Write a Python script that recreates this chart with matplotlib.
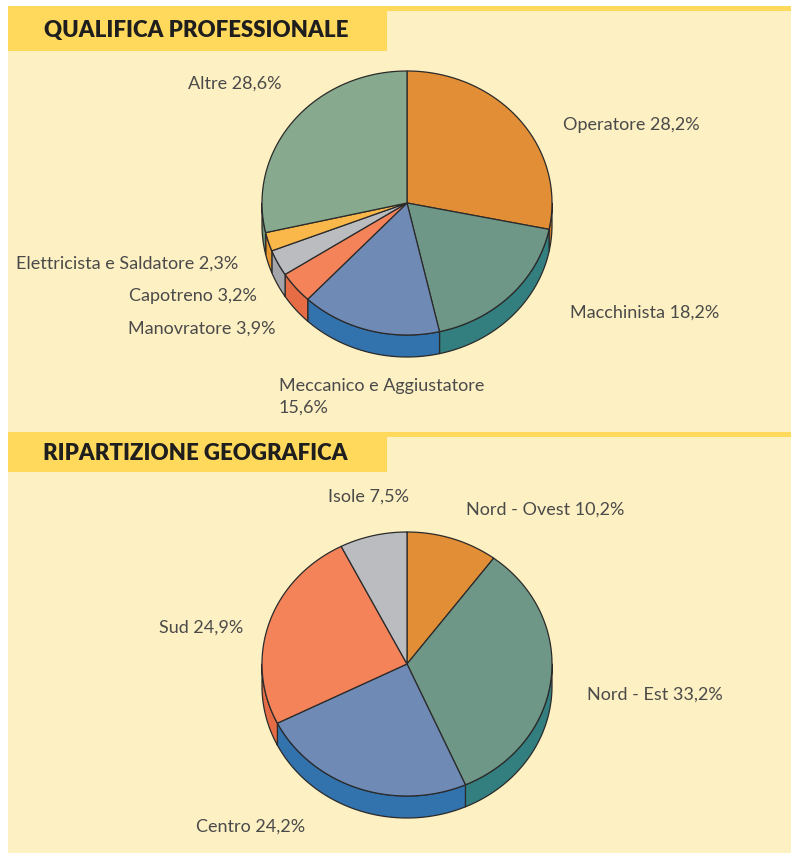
import numpy as np
import matplotlib.pyplot as plt
from matplotlib.patches import Polygon, Rectangle

# --- data ---
qual_names = ['Operatore', 'Macchinista', 'Meccanico e Aggiustatore', 'Manovratore',
              'Capotreno', 'Elettricista e Saldatore', 'Altre']
qual_values = [28.2, 18.2, 15.6, 3.9, 3.2, 2.3, 28.6]
qual_tops = ['#E28E36', '#6F9787', '#6E8AB5', '#F5835A', '#BBBCC0', '#FBB84A', '#87AA8E']
qual_sides = ['#C8782A', '#337F80', '#3272AD', '#E56C45', '#A4A5AA', '#E8962E', '#6E9277']

geo_names = ['Nord - Ovest', 'Nord - Est', 'Centro', 'Sud', 'Isole']
geo_values = [10.2, 33.2, 24.2, 24.9, 7.5]
geo_tops = ['#E28E36', '#6F9787', '#6E8AB5', '#F5835A', '#BBBCC0']
geo_sides = ['#C8782A', '#337F80', '#3272AD', '#E56C45', '#A4A5AA']

W, H = 791, 854
BG = '#FDF0C2'
BAR = '#FFD95C'
EDGE = '#2a2a2a'
TXT = '#4a4a4a'
LW = 0.9


def pct(v):
    return f"{v:.1f}".replace('.', ',') + '%'


def draw_pie(ax, values, tops, sides, cx, cy, rx=145, ry=132, depth=22):
    fracs = np.array(values) / sum(values)
    edges = 90 - 360 * np.concatenate([[0], np.cumsum(fracs)])
    # side walls (front half only)
    for i in range(len(values)):
        a0, a1 = edges[i + 1], edges[i]
        lo, hi = max(a0, -180), min(a1, 0)
        if hi > lo:
            t = np.radians(np.linspace(lo, hi, 80))
            x = cx + rx * np.cos(t)
            y = cy - ry * np.sin(t)
            pts = np.column_stack([np.r_[x, x[::-1]], np.r_[y, y[::-1] + depth]])
            ax.add_patch(Polygon(pts, fc=sides[i], ec=EDGE, lw=LW, joinstyle='round'))
    # top faces
    for i in range(len(values)):
        a0, a1 = edges[i + 1], edges[i]
        t = np.radians(np.linspace(a1, a0, 120))
        x = np.r_[cx, cx + rx * np.cos(t)]
        y = np.r_[cy, cy - ry * np.sin(t)]
        ax.add_patch(Polygon(np.column_stack([x, y]), fc=tops[i], ec=EDGE, lw=LW,
                             joinstyle='round'))


fig = plt.figure(figsize=(W / 100, H / 100), dpi=100)
ax = fig.add_axes([0, 0, 1, 1])
ax.set_xlim(0, W)
ax.set_ylim(H, 0)
ax.axis('off')

ax.add_patch(Rectangle((8, 12), W - 8, H - 12, color=BG, lw=0))
for y0, y1 in [(7, 52), (433, 473)]:
    ax.add_patch(Rectangle((8, y0), W - 8, 5, color=BAR, lw=0))
    ax.add_patch(Rectangle((8, y0), 379, y1 - y0, color=BAR, lw=0))

hfont = dict(family=['Lato', 'DejaVu Sans'], weight='heavy', size=16, color='#1e1e1e',
             va='center', ha='left')
ax.text(44, 31, 'QUALIFICA PROFESSIONALE', **hfont)
ax.text(43, 454, 'RIPARTIZIONE GEOGRAFICA', **hfont)

draw_pie(ax, qual_values, qual_tops, qual_sides, 407, 204)
draw_pie(ax, geo_values, geo_tops, geo_sides, 407, 665)

lfont = dict(family=['Lato', 'DejaVu Sans'], weight='normal', size=13, color=TXT, va='center')

# labels, qualifica
q = dict(zip(qual_names, qual_values))
ax.text(563, 125, f"Operatore {pct(q['Operatore'])}", ha='left', **lfont)
ax.text(570, 313, f"Macchinista {pct(q['Macchinista'])}", ha='left', **lfont)
ax.text(279, 386, 'Meccanico e Aggiustatore', ha='left', **lfont)
ax.text(279, 408, pct(q['Meccanico e Aggiustatore']), ha='left', **lfont)
ax.text(276, 329, f"Manovratore {pct(q['Manovratore'])}", ha='right', **lfont)
ax.text(257, 296, f"Capotreno {pct(q['Capotreno'])}", ha='right', **lfont)
ax.text(238, 264, f"Elettricista e Saldatore {pct(q['Elettricista e Saldatore'])}", ha='right', **lfont)
ax.text(281, 84, f"Altre {pct(q['Altre'])}", ha='right', **lfont)

# labels, geografica
g = dict(zip(geo_names, geo_values))
ax.text(409, 497, f"Isole {pct(g['Isole'])}", ha='right', **lfont)
ax.text(466, 510, f"Nord - Ovest {pct(g['Nord - Ovest'])}", ha='left', **lfont)
ax.text(243, 628, f"Sud {pct(g['Sud'])}", ha='right', **lfont)
ax.text(587, 695, f"Nord - Est {pct(g['Nord - Est'])}", ha='left', **lfont)
ax.text(196, 827, f"Centro {pct(g['Centro'])}", ha='left', **lfont)

fig.savefig('out.png', dpi=100, facecolor='white')
